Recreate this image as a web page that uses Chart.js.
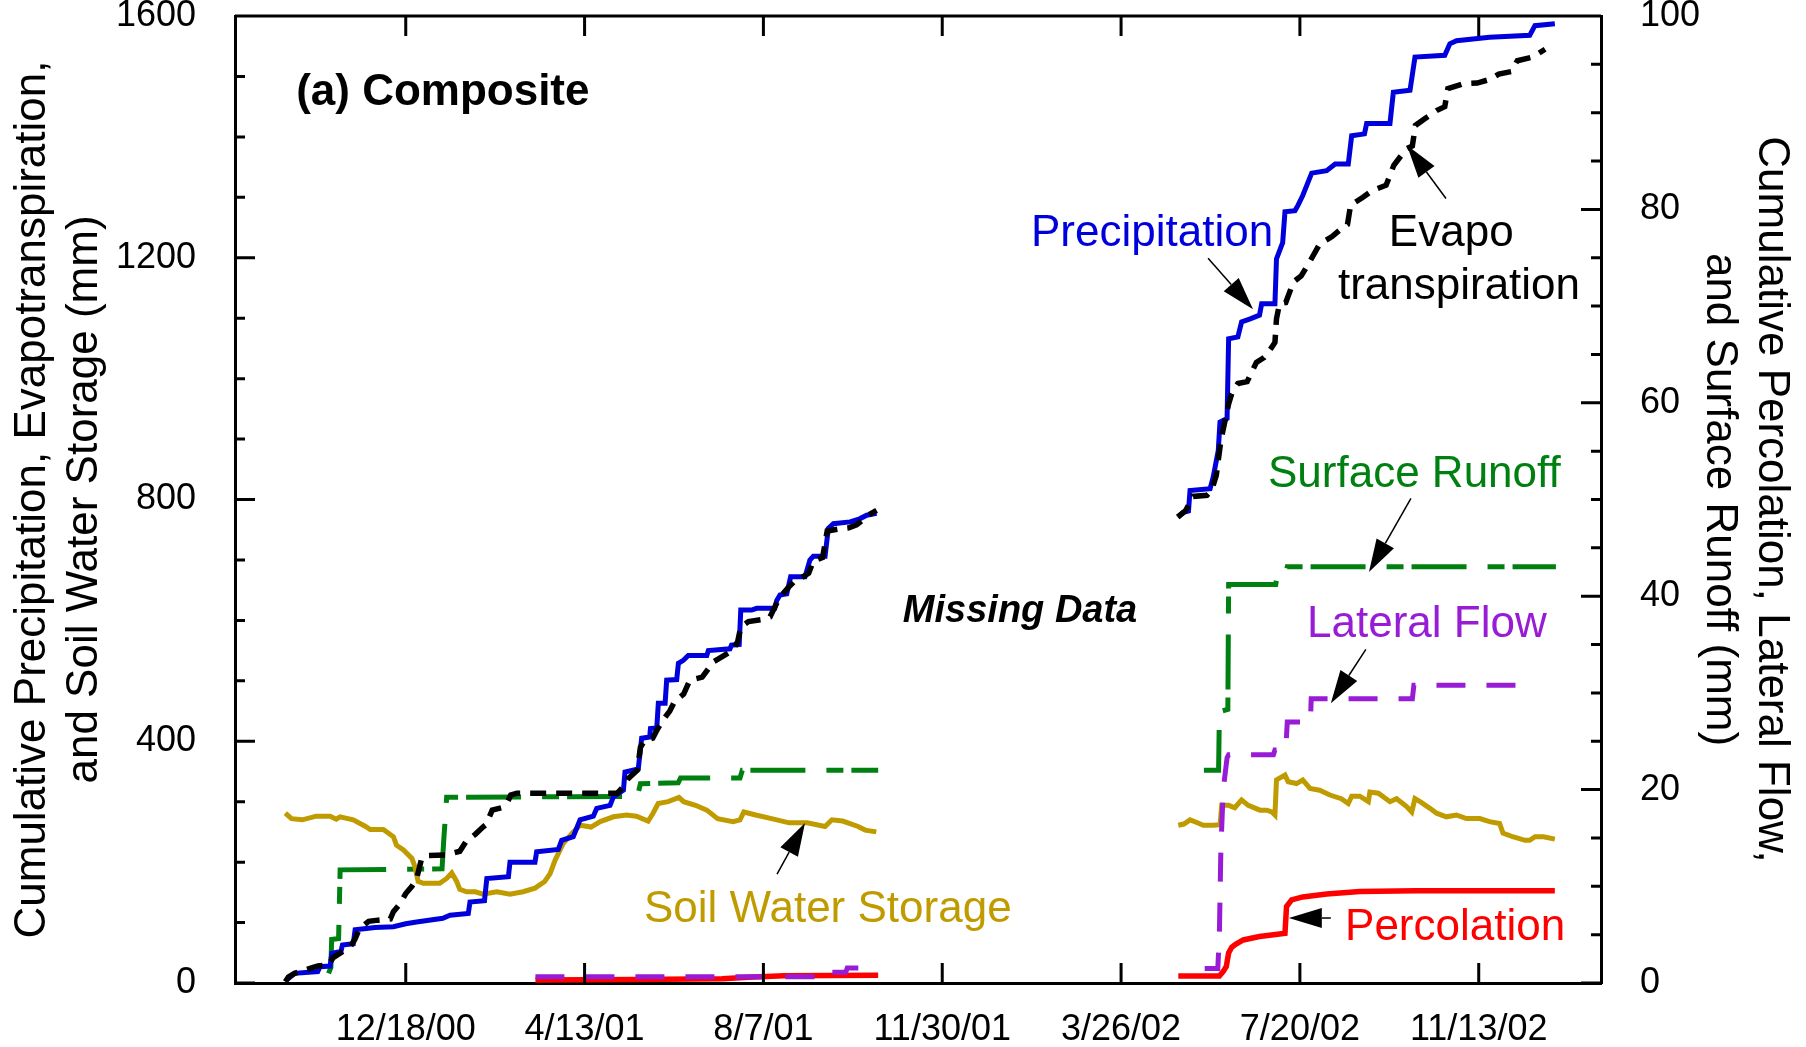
<!DOCTYPE html>
<html>
<head>
<meta charset="utf-8">
<title>(a) Composite</title>
<script src="https://cdn.jsdelivr.net/npm/chart.js@4.4.1/dist/chart.umd.min.js"></script>
<style>
  html, body { margin: 0; padding: 0; background: #fff; }
</style>
</head>
<body>
<canvas id="grafico" width="1806" height="1047"></canvas>
<script>
// Eixo X em dias a partir de 12/18/00; marcas a cada 695/6 dias (12/18/00 .. 11/13/02)
const tickLabels = ['12/18/00', '4/13/01', '8/7/01', '11/30/01', '3/26/02', '7/20/02', '11/13/02'];
const tickStep = 695 / 6;
const xMin = -110.6;
const xMax = 774.2;
const leftTicks = [0, 400, 800, 1200, 1600];
const rightTicks = [0, 20, 40, 60, 80, 100];

// Precipitação acumulada (mm, eixo esquerdo) – [dia, valor]
const precip1 = [[-77, 5], [-72, 16], [-57, 19], [-55.5, 27], [-49, 28], [-47.9, 49], [-42, 52], [-41, 63], [-34, 65], [-32.8, 88], [-20, 92], [-8, 93], [0, 98], [7, 101], [24, 107], [28.7, 112], [40.5, 115], [41.6, 134], [51, 136], [52.5, 173], [66.5, 176], [67.5, 200], [83.7, 200], [84.8, 217], [98.8, 221], [101, 236], [108.5, 242], [112.9, 270], [121.5, 276], [123.7, 289], [132.3, 294], [134.5, 308], [141, 319], [142, 349], [150.6, 354], [152.8, 405], [158, 407], [158.5, 421], [162.6, 422], [163.6, 463], [168, 463], [169, 501], [175.5, 502], [176.6, 529], [179.8, 534], [183, 542], [195, 542], [196, 550], [210, 553], [211, 559], [216, 560], [217, 617], [224, 617], [227.3, 620], [239, 620], [240.3, 633], [242.4, 642], [246.8, 644], [249.3, 672], [258.6, 672], [261.8, 700], [264, 706], [271.6, 706], [273.7, 752], [277, 760], [287.8, 763], [294, 768], [298.6, 774], [305, 777]];
const precip2 = [[500.4, 771], [503.6, 779], [507, 781], [508, 815], [521, 818], [523, 837], [526.3, 881], [527.4, 928], [532, 934], [533, 1066], [539, 1069], [541.4, 1094], [547, 1099], [553, 1105], [554.4, 1124], [563, 1124], [564, 1198], [568, 1225], [569.5, 1276], [576, 1278], [578, 1287], [581, 1303], [586.8, 1340], [596.5, 1344], [602, 1355], [610.5, 1355], [612.7, 1402], [621, 1405], [622.4, 1422], [637.5, 1422], [639.7, 1474], [650.5, 1477], [653.7, 1532], [673, 1535], [676.3, 1554], [680.6, 1559], [702, 1565], [728, 1568], [731.4, 1584], [744.3, 1587]];

// Evapotranspiração acumulada (mm)
const et1 = [[-78, 2], [-76, 10], [-72, 16], [-60, 26], [-57, 28], [-50, 30], [-47, 42], [-42, 50], [-36, 60], [-33, 72], [-30, 90], [-24, 102], [-18, 104], [-10, 106], [-8, 118], [-4, 130], [0, 148], [4, 160], [7, 172], [10, 203], [13, 211], [26, 212], [35, 218], [39, 234], [45, 246], [50, 258], [52, 262], [56, 286], [62, 290], [66, 300], [68, 311], [72, 314], [137, 314], [141, 325], [144, 338], [150, 352], [152, 390], [155, 402], [160, 405], [163, 420], [167, 436], [171, 450], [174, 465], [180, 478], [184, 501], [192, 506], [196, 520], [199, 531], [205, 540], [212, 551], [215, 565], [217, 589], [222, 598], [230, 601], [236, 606], [240, 627], [243, 640], [248, 655], [252, 665], [256, 670], [261, 678], [264, 698], [270, 704], [273, 748], [280, 751], [287, 753], [292, 758], [297, 768], [300, 775], [305, 782]];
const et2 = [[500, 771], [505, 781], [510, 805], [519, 807], [522, 815], [525, 840], [528, 898], [533, 958], [535, 975], [539, 992], [545, 995], [551, 1027], [556, 1035], [561, 1052], [563, 1060], [564, 1099], [566, 1124], [570, 1126], [575, 1160], [580, 1170], [585, 1191], [592, 1223], [600, 1235], [606, 1248], [610, 1255], [612, 1287], [620, 1300], [626, 1311], [635, 1320], [640, 1353], [648, 1380], [652, 1385], [654, 1419], [660, 1430], [668, 1444], [673, 1450], [675, 1480], [685, 1488], [694, 1489], [702, 1495], [708, 1504], [716, 1508], [720, 1526], [730, 1532], [738, 1545]];

// Armazenamento de água no solo (mm)
const soil1 = [[-78, 281], [-74, 272], [-67, 270], [-58, 276], [-49, 276], [-45, 271], [-42.5, 275], [-34, 270], [-26, 259], [-23, 254], [-14.5, 254], [-8, 242], [-6, 228], [-1.5, 220], [4, 206], [6, 192], [8, 168], [11.4, 165], [22, 165], [26.5, 173], [29.8, 182], [33, 168], [35, 155], [39.5, 151], [45, 151], [50, 147], [59, 151], [67.5, 147], [76, 151], [83.7, 157], [90, 168], [93.5, 181], [96.7, 203], [102, 231], [108.5, 250], [113, 261], [120, 258], [126, 267], [134.5, 275], [143, 278], [149.4, 276], [157, 268], [160, 280], [163.5, 297], [170, 300], [177, 307], [180, 300], [187.7, 294], [195, 286], [202, 272], [212, 267], [216.5, 270], [219, 283], [226.7, 278], [236.9, 272], [248.4, 265], [260, 265], [271.6, 259], [276, 270], [283, 268], [293, 259], [297.6, 253], [304.8, 250]];
const soil2 = [[500.4, 261], [504, 263], [508, 270], [512, 266], [516.6, 261], [523, 261], [527.5, 262], [528.5, 294], [533, 294], [537, 290], [541.4, 303], [545.7, 294], [553.3, 286], [557.6, 286], [561, 283], [563, 278], [564, 336], [569.5, 344], [571.6, 333], [577, 330], [581, 336], [585.7, 322], [592, 319], [598.6, 311], [606, 305], [610.5, 297], [612.7, 309], [618, 309], [623.5, 300], [624.5, 316], [630, 314], [637.5, 300], [641.8, 305], [648.3, 292], [651.6, 283], [653.7, 305], [657, 300], [663.4, 289], [667.7, 281], [674, 275], [680.6, 278], [687, 272], [695.7, 272], [702, 267], [708.5, 264], [710.7, 248], [717, 242], [725, 236], [728, 236], [731.5, 242], [737, 242], [744.3, 238]];

// Escoamento superficial, fluxo lateral e percolação (mm, eixo direito)
const runoff1 = [[-50, 1.0], [-48.5, 1.6], [-48, 4.5], [-43.5, 4.6], [-42.5, 11.7], [23.5, 11.8], [24.5, 14.5], [26.5, 19.2], [150, 19.3], [152, 20.6], [176.5, 20.7], [178, 21.2], [216.5, 21.2], [218, 22.0], [306, 22.0]];
const runoff2 = [[517, 22.0], [526.5, 22.0], [527, 27.8], [528, 28.1], [532.5, 28.3], [533, 41.2], [563.5, 41.2], [564.5, 42.2], [570, 42.2], [571, 43.05], [745, 43.05]];
const lateral1 = [[84, 0.65], [272, 0.65], [273, 1.1], [285, 1.1], [286, 1.55], [306, 1.55]];
const lateral2 = [[517.5, 1.5], [526, 1.5], [527, 5], [528, 14], [529.5, 20], [532, 23.3], [533, 23.6], [562, 23.6], [563, 24.1], [570, 24.1], [571, 27.0], [586, 27.0], [586.5, 29.4], [652, 29.4], [653, 30.8], [730, 30.8]];
const perc1 = [[84, 0.3], [150, 0.35], [205, 0.45], [222, 0.6], [245, 0.75], [306, 0.8]];
const perc2 = [[500.4, 0.72], [527, 0.72], [529.5, 1.2], [531.5, 1.7], [533, 3.1], [535, 3.7], [537.5, 4.0], [542.5, 4.45], [553, 4.8], [566, 5.07], [569.5, 5.14], [570.5, 7.9], [573.8, 8.6], [581, 8.9], [596.5, 9.2], [618, 9.45], [654.6, 9.55], [744.3, 9.55]];

const FONTE = "'Liberation Sans', Arial, sans-serif";
const AZUL = '#0000dc', VERDE = '#008010', ROXO = '#981cd6', VERMELHO = '#ff0000', OURO = '#bf9b00';

// Textos e setas, posicionados em coordenadas de dados (dia, mm do eixo esquerdo)
const rotulos = [
  { text: '(a) Composite', day: -71, mm: 1452, color: '#000', font: 'bold 44px ' + FONTE },
  { text: 'Missing Data', day: 322, mm: 597, color: '#000', font: 'italic bold 38px ' + FONTE },
  { text: 'Precipitation', day: 405, mm: 1220, color: AZUL, font: '44px ' + FONTE },
  { text: 'Evapo', day: 636.8, mm: 1220, color: '#000', font: '44px ' + FONTE },
  { text: 'transpiration', day: 603.8, mm: 1131, color: '#000', font: '44px ' + FONTE },
  { text: 'Surface Runoff', day: 558.5, mm: 820, color: VERDE, font: '44px ' + FONTE },
  { text: 'Lateral Flow', day: 583.8, mm: 572, color: ROXO, font: '44px ' + FONTE },
  { text: 'Percolation', day: 608.4, mm: 71, color: VERMELHO, font: '44px ' + FONTE },
  { text: 'Soil Water Storage', day: 154.3, mm: 101, color: OURO, font: '44px ' + FONTE }
];
const setas = [
  { de: [519.7, 1199], para: [548.8, 1114.6] },
  { de: [673.8, 1298], para: [648.5, 1386] },
  { de: [651.1, 802], para: [623.9, 680] },
  { de: [621.9, 552], para: [599.2, 463] },
  { de: [599.2, 107.5], para: [572, 107.5] },
  { de: [240.5, 180], para: [258.6, 264.6] }
];

// Junta os dois períodos com um ponto nulo no meio (dados ausentes)
function montarSerie(p1, p2) {
  const pts = p1.map(([x, y]) => ({ x, y }));
  pts.push({ x: 400, y: null });
  return pts.concat(p2.map(([x, y]) => ({ x, y })));
}

// Moldura, marcas internas dos eixos e anotações
const moldura = {
  id: 'moldura',
  afterDraw(chart) {
    const { ctx, chartArea: a, scales } = chart;
    ctx.save();
    ctx.strokeStyle = '#000';
    ctx.lineWidth = 3;
    ctx.beginPath();
    ctx.moveTo(a.left, a.top);
    ctx.lineTo(a.right, a.top);
    for (let v = 0; v <= 1600; v += 100) {
      const y = scales.y.getPixelForValue(v);
      ctx.moveTo(a.left, y);
      ctx.lineTo(a.left + (v % 400 === 0 ? 20 : 10), y);
    }
    for (let v = 0; v <= 100; v += 5) {
      const y = scales.y2.getPixelForValue(v);
      ctx.moveTo(a.right, y);
      ctx.lineTo(a.right - (v % 20 === 0 ? 20 : 10), y);
    }
    tickLabels.forEach((_, i) => {
      const x = scales.x.getPixelForValue(i * tickStep);
      ctx.moveTo(x, a.bottom);
      ctx.lineTo(x, a.bottom - 20);
      ctx.moveTo(x, a.top);
      ctx.lineTo(x, a.top + 20);
    });
    ctx.stroke();

    const px = d => scales.x.getPixelForValue(d);
    const py = v => scales.y.getPixelForValue(v);

    ctx.textAlign = 'left';
    ctx.textBaseline = 'alphabetic';
    rotulos.forEach(r => {
      ctx.font = r.font;
      ctx.fillStyle = r.color;
      ctx.fillText(r.text, px(r.day), py(r.mm));
    });

    ctx.fillStyle = '#000';
    ctx.lineWidth = 1.5;
    setas.forEach(s => {
      const x0 = px(s.de[0]), y0 = py(s.de[1]);
      const x1 = px(s.para[0]), y1 = py(s.para[1]);
      const ang = Math.atan2(y1 - y0, x1 - x0);
      const comp = 33, meia = 10;
      const bx = x1 - comp * Math.cos(ang), by = y1 - comp * Math.sin(ang);
      ctx.beginPath();
      ctx.moveTo(x0, y0);
      ctx.lineTo(bx, by);
      ctx.stroke();
      ctx.beginPath();
      ctx.moveTo(x1, y1);
      ctx.lineTo(bx + meia * Math.sin(ang), by - meia * Math.cos(ang));
      ctx.lineTo(bx - meia * Math.sin(ang), by + meia * Math.cos(ang));
      ctx.closePath();
      ctx.fill();
    });
    ctx.restore();
  }
};

function linha(label, data, eixo, cor, largura, tracejado) {
  return {
    label, data, yAxisID: eixo,
    borderColor: cor, backgroundColor: cor,
    borderWidth: largura, borderDash: tracejado || [],
    borderCapStyle: 'butt', borderJoinStyle: 'miter',
    pointRadius: 0, tension: 0, fill: false, spanGaps: false
  };
}

let grafico;

function carregarGrafico() {
  const ctx = document.getElementById('grafico').getContext('2d');
  Chart.defaults.font.family = FONTE;
  Chart.defaults.color = '#000';

  grafico = new Chart(ctx, {
    type: 'line',
    data: {
      datasets: [
        linha('Evapotranspiration', montarSerie(et1, et2), 'y', '#000', 5.5, [16, 10]),
        linha('Precipitation', montarSerie(precip1, precip2), 'y', AZUL, 5),
        linha('Lateral Flow', montarSerie(lateral1, lateral2), 'y2', ROXO, 5, [29, 21]),
        linha('Percolation', montarSerie(perc1, perc2), 'y2', VERMELHO, 5.5),
        linha('Soil Water Storage', montarSerie(soil1, soil2), 'y', OURO, 5),
        linha('Surface Runoff', montarSerie(runoff1, runoff2), 'y2', VERDE, 5, [55, 21, 17, 8])
      ]
    },
    options: {
      responsive: false,
      animation: false,
      devicePixelRatio: 1,
      layout: { padding: { top: 16, left: 0, right: 0, bottom: 0 } },
      plugins: { legend: { display: false }, tooltip: { enabled: false }, title: { display: false } },
      scales: {
        x: {
          type: 'linear', min: xMin, max: xMax,
          grid: { display: false, drawTicks: false },
          border: { display: true, color: '#000', width: 3 },
          afterBuildTicks: s => { s.ticks = tickLabels.map((_, i) => ({ value: i * tickStep })); },
          ticks: { callback: (v, i) => tickLabels[i], font: { size: 36 }, color: '#000', padding: 25, maxRotation: 0, autoSkip: false },
          afterFit: s => { s.height = 64; s.paddingLeft = 0; s.paddingRight = 0; }
        },
        y: {
          position: 'left', min: 0, max: 1600,
          grid: { display: false, drawTicks: false },
          border: { display: true, color: '#000', width: 3 },
          afterBuildTicks: s => { s.ticks = leftTicks.map(v => ({ value: v })); },
          ticks: { callback: v => String(v), font: { size: 36 }, color: '#000', padding: 39 },
          title: {
            display: true,
            text: ['Cumulative Precipitation, Evapotranspiration,', 'and Soil Water Storage (mm)'],
            font: { size: 44 }, color: '#000', padding: { top: 6, bottom: 0 }
          },
          afterFit: s => { s.width = 235; s.paddingTop = 0; s.paddingBottom = 0; }
        },
        y2: {
          position: 'right', min: 0, max: 100,
          grid: { display: false, drawTicks: false },
          border: { display: true, color: '#000', width: 3 },
          afterBuildTicks: s => { s.ticks = rightTicks.map(v => ({ value: v })); },
          ticks: { callback: v => String(v), font: { size: 36 }, color: '#000', padding: 39 },
          title: {
            display: true,
            text: ['Cumulative Percolation, Lateral Flow,', 'and Surface Runoff (mm)'],
            font: { size: 44 }, color: '#000', padding: { top: 8, bottom: 0 }
          },
          afterFit: s => { s.width = 205; s.paddingTop = 0; s.paddingBottom = 0; }
        }
      }
    },
    plugins: [moldura]
  });
}

window.addEventListener('DOMContentLoaded', carregarGrafico);
</script>
</body>
</html>
